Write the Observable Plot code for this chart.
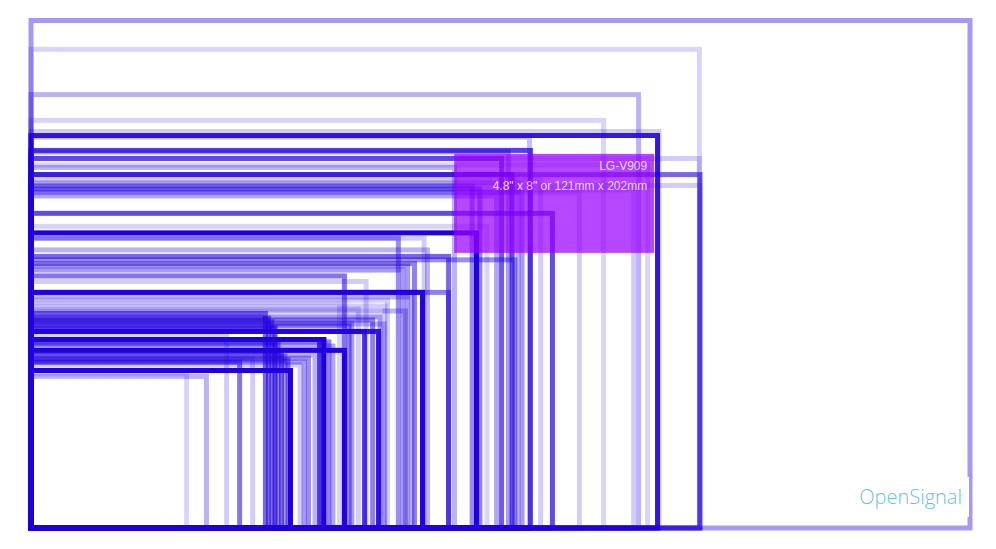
<!DOCTYPE html>
<html>
<head>
<meta charset="utf-8">
<script src="https://cdn.jsdelivr.net/npm/d3@7"></script>
<script src="https://cdn.jsdelivr.net/npm/@observablehq/plot@0.6"></script>
<style>
  html, body { margin: 0; padding: 0; background: #fff; }
  #chart svg { display: block; }
</style>
</head>
<body>
<div id="chart"></div>
<script>
// Screen sizes (landscape), width and height in millimetres, and popularity weight (opacity)
const widthMm = [302.9, 215.6, 196.0, 184.7, 202.6, 202.1, 160.8, 161.1, 154.0, 215.6, 151.8, 198.9, 136.6, 215.8, 155.2, 164.4, 215.8, 157.1, 194.4, 142.3, 176.9, 144.8, 158.4, 150.2, 168.2, 147.1, 143.7, 118.5, 126.8, 134.7, 156.1, 123.7, 121.5, 101.1, 108.1, 126.3, 134.7, 122.9, 114.2, 75.6, 120.8, 112.6, 110.2, 103.5, 102.6, 112.1, 107.6, 63.1, 94.5, 93.1, 97.4, 101.1, 91.6, 89.5, 71.5, 88.1, 67.3, 86.8, 83.7, 56.6, 50.2, 76.6, 77.7, 78.7, 79.7, 80.8, 81.9, 82.9, 96.1, 99.5, 105.6, 113.9, 115.0, 120.0, 127.9];
const heightMm = [163.7, 154.4, 139.8, 131.5, 127.9, 126.6, 126.1, 121.8, 121.3, 119.2, 119.2, 117.1, 116.3, 114.0, 114.0, 112.3, 110.5, 111.3, 109.0, 110.3, 108.1, 109.4, 108.4, 107.1, 101.5, 97.3, 95.2, 93.5, 93.5, 87.6, 86.5, 85.3, 84.5, 81.3, 79.5, 76.0, 76.0, 74.5, 71.6, 69.2, 70.0, 68.1, 67.1, 66.1, 65.2, 63.4, 63.4, 62.1, 60.8, 60.8, 58.7, 57.3, 55.8, 54.8, 54.8, 53.5, 53.5, 52.6, 50.8, 48.9, 49.7, 67.7, 66.5, 64.5, 59.4, 56.8, 55.5, 54.2, 60.0, 72.6, 70.6, 65.8, 73.5, 83.2, 89.7];
const weight = [0.4, 0.17, 0.3, 0.17, 0.2, 0.9, 0.25, 0.75, 0.4, 0.2, 0.65, 0.17, 0.3, 0.6, 0.7, 0.2, 0.2, 0.3, 0.2, 0.45, 0.2, 0.5, 0.4, 0.35, 0.7, 0.17, 1, 0.45, 0.2, 0.6, 0.45, 0.5, 0.4, 0.55, 0.2, 1, 0.5, 0.3, 0.2, 0.6, 0.3, 0.4, 0.5, 0.4, 0.5, 0.9, 0.8, 0.2, 1, 0.8, 0.35, 1, 0.3, 0.45, 0.2, 0.4, 0.55, 0.2, 1, 0.3, 0.17, 0.6, 0.55, 0.7, 0.5, 0.6, 0.4, 0.5, 0.5, 0.17, 0.2, 0.3, 0.2, 0.4, 0.3];

// Highlighted device (tooltip)
const tipName = ["LG-V909"];
const tipSize = ["4.8\" x 8\" or 121mm x 202mm"];
const tipWidthMm = [202];
const tipHeightMm = [121];

const brand = ["OpenSignal"];

const devices = widthMm.map((w, i) => ({w, h: heightMm[i], a: weight[i]}));
const tips = tipName.map((n, i) => ({name: n, size: tipSize[i], w: tipWidthMm[i], h: tipHeightMm[i]}));

const W = 996, H = 549;
const plot = Plot.plot({
  width: W,
  height: H,
  marginLeft: 31,
  marginRight: 26,
  marginTop: 20.5,
  marginBottom: 21,
  x: {domain: [0, d3.max(widthMm)], axis: null},
  y: {domain: [0, d3.max(heightMm)], axis: null},
  opacity: {type: "identity"},
  style: {background: "#fff", overflow: "visible"},
  marks: [
    Plot.rect(devices, {
      x1: () => 0, x2: "w", y1: () => 0, y2: "h",
      fill: "none", stroke: "#2000e0", strokeWidth: 5,
      strokeOpacity: "a"
    })
  ]
});

const sx = plot.scale("x"), sy = plot.scale("y");
const svg = d3.select(plot);

// tooltip anchored at the top-right corner of the highlighted device
const tipW = 200, tipH = 99;
tips.forEach(t => {
  const rx = sx.apply(t.w) - 3, ty = sy.apply(t.h) + 1;
  const g = svg.append("g");
  g.append("rect").attr("x", rx - tipW).attr("y", ty).attr("width", tipW).attr("height", tipH)
    .attr("fill", "#9900ff").attr("fill-opacity", 0.72);
  g.append("text").attr("x", rx - 7).attr("y", ty + 16.5).attr("text-anchor", "end")
    .attr("font-family", "Liberation Sans, Arial, sans-serif").attr("font-size", 12)
    .attr("fill", "#e6d8ff").text(t.name);
  g.append("text").attr("x", rx - 7).attr("y", ty + 36.5).attr("text-anchor", "end")
    .attr("font-family", "Liberation Sans, Arial, sans-serif").attr("font-size", 12)
    .attr("fill", "#e6d8ff").text(t.size);
});

// brand mark bottom right
const bx = sx.apply(d3.max(widthMm));
const by = sy.apply(0);
svg.append("rect").attr("x", bx - 120).attr("y", by - 51).attr("width", 119).attr("height", 40).attr("fill", "#fff");
svg.append("text").attr("x", bx - 8).attr("y", by - 24).attr("text-anchor", "end")
  .attr("font-family", "Open Sans, sans-serif").attr("font-size", 20).attr("font-weight", 300)
  .attr("fill", "#62c4ee").text(brand[0]);

document.getElementById("chart").appendChild(plot);
</script>
</body>
</html>
